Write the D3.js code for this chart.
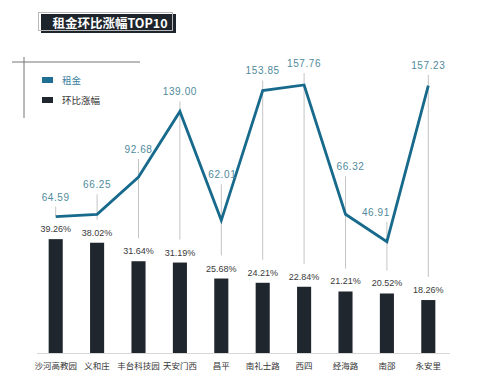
<!DOCTYPE html>
<html>
<head>
<meta charset="utf-8">
<script src="https://cdn.jsdelivr.net/npm/d3@7"></script>
<style>
    body { margin: 0; background: #fff; }
    text { font-family: "Liberation Sans", "Noto Sans CJK SC", sans-serif; }
    .cjk { font-family: "Noto Sans CJK SC", sans-serif; }
</style>
</head>
<body>
<script>
const areas = ['沙河高教园', '义和庄', '丰台科技园', '天安门西', '昌平', '南礼士路', '西四', '经海路', '南邵', '永安里']
const rent = [64.59, 66.25, 92.68, 139.00, 62.01, 153.85, 157.76, 66.32, 46.91, 157.23]
const growth = [39.26, 38.02, 31.64, 31.19, 25.68, 24.21, 22.84, 21.21, 20.52, 18.26]

// where each rent label sits relative to its point (dx, dy)
const labelShift = [[0, -20], [0, -30], [0, -28], [0, -20], [1, -46], [0, -20], [0, -22], [5, -48], [-11, -30], [0, -21]]

const w = 477
const h = 384
const base = 353

const svg = d3.select('body')
    .append('svg')
    .attr('width', w)
    .attr('height', h)

// title
svg.append('rect')
    .attr('x', 41).attr('y', 14).attr('width', 135).attr('height', 19)
    .attr('fill', '#1e242c')
svg.append('rect')
    .attr('x', 38.5).attr('y', 12.5).attr('width', 134).attr('height', 18)
    .attr('fill', 'none').attr('stroke', '#b8b8b8').attr('stroke-width', 1)
svg.append('text')
    .attr('class', 'cjk')
    .attr('x', 110).attr('y', 28)
    .attr('text-anchor', 'middle')
    .attr('fill', '#fff')
    .attr('font-size', 12.5)
    .attr('font-weight', 'bold')
    .text('租金环比涨幅TOP10')

// legend frame
svg.append('line').attr('x1', 12).attr('x2', 140).attr('y1', 62).attr('y2', 62)
    .attr('stroke', '#777').attr('stroke-width', 1)
svg.append('line').attr('x1', 24).attr('x2', 24).attr('y1', 57).attr('y2', 118)
    .attr('stroke', '#777').attr('stroke-width', 1)

const legend = [{name: '租金', color: '#1f6f94', text: '#3a7f9e'}, {name: '环比涨幅', color: '#1f262e', text: '#333'}]
legend.forEach((d, i) => {
    svg.append('rect').attr('x', 42).attr('y', 77 + i * 20).attr('width', 11).attr('height', 6).attr('fill', d.color)
    svg.append('text').attr('class', 'cjk')
        .attr('x', 62).attr('y', 84 + i * 20)
        .attr('font-size', 9.5).attr('fill', d.text)
        .text(d.name)
})

const xScale = d3.scaleBand()
    .domain(areas)
    .range([35, 449])
    .paddingInner(0.66)
    .paddingOuter(0.33)

const cx = d => xScale(d) + xScale.bandwidth() / 2

const yBar = d3.scaleLinear()
    .domain([0, 40])
    .range([base, base - 116])

const yLine = d3.scaleLinear()
    .domain([0, 160])
    .range([308, 81.8])

// guide lines from rent label down to growth label
svg.selectAll('.guide')
    .data(areas)
    .enter()
    .append('line')
    .attr('class', 'guide')
    .attr('x1', d => cx(d)).attr('x2', d => cx(d))
    .attr('y1', (d, i) => yLine(rent[i]) + labelShift[i][1] + 10)
    .attr('y2', (d, i) => yBar(growth[i]) - 23)
    .attr('stroke', '#c4c4c4')
    .attr('stroke-width', 1)

// bars
svg.selectAll('.bar')
    .data(areas)
    .enter()
    .append('rect')
    .attr('class', 'bar')
    .attr('x', d => xScale(d))
    .attr('width', xScale.bandwidth())
    .attr('y', (d, i) => yBar(growth[i]))
    .attr('height', (d, i) => base - yBar(growth[i]))
    .attr('fill', '#1f262e')

svg.selectAll('.barlabel')
    .data(areas)
    .enter()
    .append('text')
    .attr('x', d => cx(d))
    .attr('y', (d, i) => yBar(growth[i]) - 7)
    .attr('text-anchor', 'middle')
    .attr('font-size', 9)
    .attr('fill', '#3a3a3a')
    .text((d, i) => growth[i].toFixed(2) + '%')

// x axis
const xAxis = d3.axisBottom(xScale).tickSize(0).tickPadding(10)
const gx = svg.append('g')
    .attr('transform', 'translate(0,' + base + ')')
    .call(xAxis)
gx.select('.domain').attr('stroke', '#d6d6d6').attr('d', 'M37,0.5H450')
gx.selectAll('text')
    .attr('class', 'cjk')
    .attr('font-size', 8.5)
    .attr('fill', '#333')

// rent line
const line = d3.line()
    .x((d, i) => cx(areas[i]))
    .y(d => yLine(d))

svg.append('path')
    .datum(rent)
    .attr('d', line)
    .attr('fill', 'none')
    .attr('stroke', '#176a8b')
    .attr('stroke-width', 2.8)
    .attr('stroke-linejoin', 'miter')

svg.selectAll('.rentlabel')
    .data(areas)
    .enter()
    .append('text')
    .attr('x', (d, i) => cx(d) + labelShift[i][0])
    .attr('y', (d, i) => yLine(rent[i]) + labelShift[i][1] + 4)
    .attr('text-anchor', 'middle')
    .attr('font-size', 10)
    .attr('letter-spacing', 0.6)
    .attr('fill', '#4f8a9c')
    .text((d, i) => rent[i].toFixed(2))
</script>
</body>
</html>
